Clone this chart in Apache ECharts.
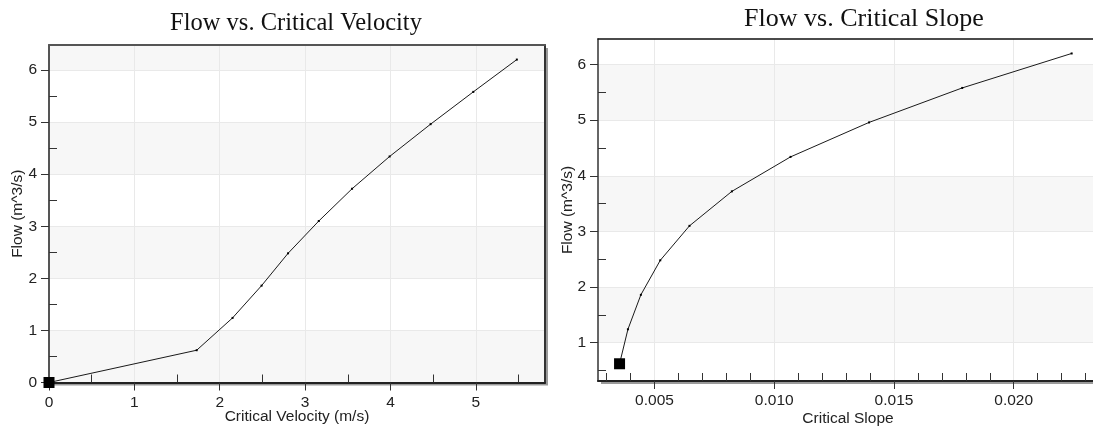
<!DOCTYPE html>
<html><head><meta charset="utf-8">
<script src="https://cdn.jsdelivr.net/npm/echarts@6/dist/echarts.min.js"></script>
<style>html,body{margin:0;padding:0;background:#fff}#c{width:1093px;height:430px}</style>
</head><body><div id="c"></div>
<script>
// ---- data ----
const velocity = [0, 1.73, 2.15, 2.49, 2.80, 3.16, 3.55, 3.99, 4.47, 4.97, 5.48];
const flowV    = [0, 0.62, 1.24, 1.86, 2.48, 3.10, 3.72, 4.34, 4.96, 5.58, 6.20];
const slope    = [0.00354, 0.00389, 0.00443, 0.00524, 0.00646, 0.00823, 0.01068, 0.01396, 0.01785, 0.02242];
const flowS    = [0.62, 1.24, 1.86, 2.48, 3.10, 3.72, 4.34, 4.96, 5.58, 6.20];

// ---- tick labels ----
const velTicks   = [0, 1, 2, 3, 4, 5];
const velMinor   = [0.5, 1.5, 2.5, 3.5, 4.5, 5.5];
const flowTicksL = [0, 1, 2, 3, 4, 5, 6];
const flowMinorL = [0.5, 1.5, 2.5, 3.5, 4.5, 5.5];
const slopeTicks = [0.005, 0.010, 0.015, 0.020];
const slopeMinor = [0.003, 0.004, 0.006, 0.007, 0.008, 0.009, 0.011, 0.012, 0.013, 0.014,
                    0.016, 0.017, 0.018, 0.019, 0.021, 0.022, 0.023];
const flowTicksR = [1, 2, 3, 4, 5, 6];
const flowMinorR = [0.5, 1.5, 2.5, 3.5, 4.5, 5.5];

const titles = ['Flow vs. Critical Velocity', 'Flow vs. Critical Slope'];
const xNames = ['Critical Velocity (m/s)', 'Critical Slope'];
const yName = 'Flow (m^3/s)';

const LBL = {fontFamily: 'Liberation Sans, Arial, sans-serif', fontSize: 15.5, color: '#222'};
const SERIF = 'Liberation Serif, Times New Roman, serif';

function mainAxis(o) {
  return {
    type: 'value', gridIndex: o.grid, position: o.pos, min: o.min, max: o.max,
    name: o.name, nameLocation: 'middle', nameGap: o.gap, nameMoveOverlap: false,
    nameTextStyle: Object.assign({}, LBL),
    axisLine: {show: true, onZero: false, lineStyle: {color: o.lineColor, width: o.lineWidth}},
    axisTick: {show: true, inside: false, length: 8, customValues: o.ticks, lineStyle: {color: '#333', width: 1}},
    axisLabel: Object.assign({show: true, margin: 12, customValues: o.ticks, formatter: o.fmt}, LBL),
    splitLine: {show: true, lineStyle: {color: '#e9e9e9', width: 1}},
    splitArea: o.area ? {show: true, areaStyle: {color: o.area}} : {show: false},
    minorTick: {show: false}
  };
}
function minorAxis(o) {
  return {
    type: 'value', gridIndex: o.grid, position: o.pos, min: o.min, max: o.max,
    axisLine: {show: false, onZero: false},
    axisTick: {show: true, inside: true, length: 8, customValues: o.ticks, lineStyle: {color: '#333', width: 1}},
    axisLabel: {show: false},
    splitLine: {show: false}, splitArea: {show: false}
  };
}
function frameAxis(o) {
  return {
    type: 'value', gridIndex: o.grid, position: o.pos, min: o.min, max: o.max,
    axisLine: {show: true, onZero: false, lineStyle: {color: o.color, width: o.width}},
    axisTick: {show: false}, axisLabel: {show: false},
    splitLine: {show: false}, splitArea: {show: false}
  };
}

const L = {xmin: 0, xmax: 5.81, ymin: 0, ymax: 6.48};
const R = {xmin: 0.00264, xmax: 0.02352, ymin: 0.31, ymax: 6.46};

const symSize = (v, p) => p.dataIndex === 0 ? 11 : 2;

const option = {
  animation: false,
  backgroundColor: '#ffffff',
  title: [
    {text: titles[0], left: 291, top: 6, textAlign: 'center',
     textStyle: {fontFamily: SERIF, fontSize: 24.5, fontWeight: 'normal', color: '#111'}},
    {text: titles[1], left: 859, top: 1, textAlign: 'center',
     textStyle: {fontFamily: SERIF, fontSize: 26, fontWeight: 'normal', color: '#111'}}
  ],
  grid: [
    {left: 49, top: 45, width: 496, height: 337.5, show: true, backgroundColor: '#f7f7f7',
     outerBoundsMode: 'none', containLabel: false,
     borderWidth: 0, shadowColor: '#9a9a9a', shadowOffsetX: 3, shadowOffsetY: 3, shadowBlur: 0},
    {left: 598, top: 39, width: 500, height: 342, show: true, backgroundColor: '#ffffff',
     outerBoundsMode: 'none', containLabel: false,
     borderWidth: 0, shadowColor: '#9a9a9a', shadowOffsetX: 3, shadowOffsetY: 3, shadowBlur: 0}
  ],
  xAxis: [
    mainAxis({grid: 0, pos: 'bottom', min: L.xmin, max: L.xmax, name: xNames[0], gap: 26,
              ticks: velTicks, lineColor: '#222', lineWidth: 2, fmt: v => String(v)}),
    mainAxis({grid: 1, pos: 'bottom', min: R.xmin, max: R.xmax, name: xNames[1], gap: 30,
              ticks: slopeTicks, lineColor: '#222', lineWidth: 2, fmt: v => Number(v).toFixed(3)}),
    minorAxis({grid: 0, pos: 'bottom', min: L.xmin, max: L.xmax, ticks: velMinor}),
    minorAxis({grid: 1, pos: 'bottom', min: R.xmin, max: R.xmax, ticks: slopeMinor}),
    frameAxis({grid: 0, pos: 'top', min: L.xmin, max: L.xmax, color: '#555', width: 2}),
    frameAxis({grid: 1, pos: 'top', min: R.xmin, max: R.xmax, color: '#111', width: 1.5})
  ],
  yAxis: [
    mainAxis({grid: 0, pos: 'left', min: L.ymin, max: L.ymax, name: yName, gap: 23,
              ticks: flowTicksL, lineColor: '#555', lineWidth: 2, fmt: v => String(v),
              area: ['#f7f7f7', '#ffffff']}),
    mainAxis({grid: 1, pos: 'left', min: R.ymin, max: R.ymax, name: yName, gap: 22,
              ticks: flowTicksR, lineColor: '#333', lineWidth: 1.5, fmt: v => String(v),
              area: ['#f7f7f7', '#ffffff']}),
    minorAxis({grid: 0, pos: 'left', min: L.ymin, max: L.ymax, ticks: flowMinorL}),
    minorAxis({grid: 1, pos: 'left', min: R.ymin, max: R.ymax, ticks: flowMinorR}),
    frameAxis({grid: 0, pos: 'right', min: L.ymin, max: L.ymax, color: '#333', width: 2})
  ],
  series: [
    {type: 'line', xAxisIndex: 0, yAxisIndex: 0, data: velocity.map((v, i) => [v, flowV[i]]),
     symbol: 'rect', symbolSize: symSize, itemStyle: {color: '#000'},
     lineStyle: {color: '#1a1a1a', width: 1}, clip: false, z: 5},
    {type: 'line', xAxisIndex: 1, yAxisIndex: 1, data: slope.map((s, i) => [s, flowS[i]]),
     symbol: 'rect', symbolSize: symSize, itemStyle: {color: '#000'},
     lineStyle: {color: '#1a1a1a', width: 1}, clip: false, z: 5}
  ]
};
const chart = echarts.init(document.getElementById('c'), null, {renderer: 'canvas'});
chart.setOption(option);
</script></body></html>
